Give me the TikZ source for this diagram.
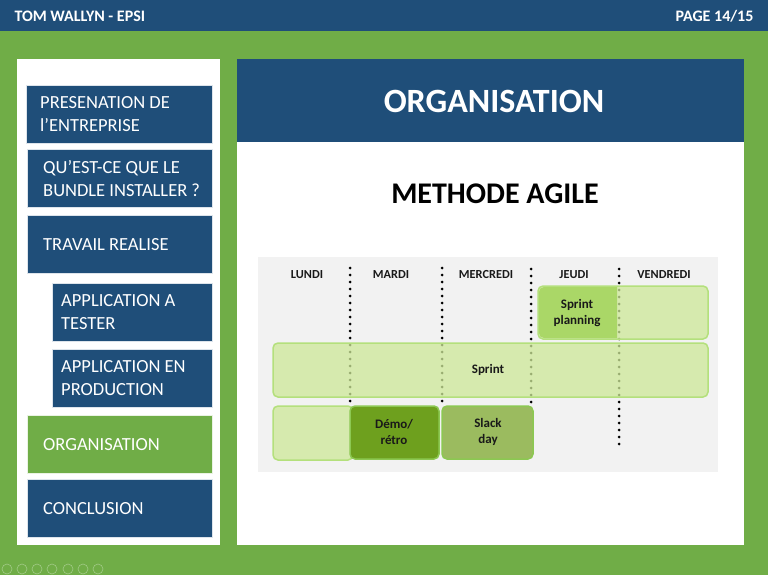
\documentclass[tikz,border=0pt]{standalone}
\usepackage{fontspec}
\setmainfont{Carlito}
\usetikzlibrary{positioning}

\definecolor{epsiblue}{RGB}{31,78,121}
\definecolor{epsigreen}{RGB}{112,173,71}
\definecolor{chartgray}{RGB}{242,242,242}
\definecolor{lightfill}{RGB}{205,232,152}
\definecolor{lightedge}{RGB}{180,224,124}
\definecolor{planfill}{RGB}{168,214,100}
\definecolor{demofill}{RGB}{110,160,30}
\definecolor{slackfill}{RGB}{155,187,95}
\definecolor{boxedge}{RGB}{140,200,82}
\definecolor{inktext}{RGB}{25,25,25}

\begin{document}
\begin{tikzpicture}[x=1pt,y=-1pt,
    navbox/.style={fill=#1, draw=white!85!#1, line width=0.6pt, anchor=north west,
        minimum height=58pt, inner sep=0pt},
    navbox/.default=epsiblue,
    navtext/.style={anchor=west, inner sep=0pt, text=white, align=left,
        font=\fontsize{18.5}{23}\selectfont},
    daylabel/.style={font=\bfseries\fontsize{12.3}{14}\selectfont, text=inktext},
    boxlabel/.style={font=\bfseries\fontsize{13}{16}\selectfont, text=inktext, align=center},
    dotline/.style={line width=3pt, line cap=round, dash pattern=on 0pt off 7pt},
    lightbox/.style={fill=lightfill, fill opacity=0.75, draw=lightedge, line width=1.5pt, rounded corners=5pt},
    daybox/.style={fill=#1, draw=boxedge, line width=1.5pt, rounded corners=5pt}
]
\useasboundingbox (0,0) rectangle (768,575);

% fond et bandeau
\fill[epsigreen] (0,0) rectangle (768,575);
\fill[epsiblue] (0,0) rectangle (768,31);
\node[anchor=west, text=white, font=\bfseries\fontsize{16}{18}\selectfont] (auteur) at (11,16) {TOM WALLYN - EPSI};
\node[anchor=east, text=white, font=\bfseries\fontsize{16}{18}\selectfont] (page) at (757,16) {PAGE 14/15};

% menu de gauche
\fill[white] (17,59) rectangle (220,545);
\node[navbox, minimum width=186pt] (presentation) at (26,85) {};
\node[navtext, right=14pt of presentation.west] (presentationtxt) {PRESENATION DE\\l’ENTREPRISE};
\node[navbox, minimum width=185pt] (bundle) at (27,149) {};
\node[navtext, right=16pt of bundle.west] (bundletxt) {QU’EST-CE QUE LE\\BUNDLE INSTALLER ?};
\node[navbox, minimum width=185pt] (travail) at (27,215) {};
\node[navtext, right=16pt of travail.west] (travailtxt) {TRAVAIL REALISE};
\node[navbox, minimum width=160pt] (tester) at (52,283) {};
\node[navtext, right=9pt of tester.west] (testertxt) {APPLICATION A\\TESTER};
\node[navbox, minimum width=160pt] (production) at (52,349) {};
\node[navtext, right=9pt of production.west] (productiontxt) {APPLICATION EN\\PRODUCTION};
\node[navbox=epsigreen, minimum width=185pt] (organisation) at (27,415) {};
\node[navtext, right=16pt of organisation.west] (organisationtxt) {ORGANISATION};
\node[navbox, minimum width=185pt] (conclusion) at (27,479) {};
\node[navtext, right=16pt of conclusion.west] (conclusiontxt) {CONCLUSION};

% panneau principal
\fill[white] (237,59) rectangle (744,545);
\fill[epsiblue] (237,59) rectangle (744,142);
\node[text=white, font=\bfseries\fontsize{34}{38}\selectfont] (titre) at (494,101) {ORGANISATION};
\node[text=black, font=\bfseries\fontsize{30}{34}\selectfont] (methode) at (495,194) {METHODE AGILE};

% planning de la semaine
\fill[chartgray] (258,257) rectangle (718,472);
\node[daylabel] (lundi) at (307,275) {LUNDI};
\node[daylabel] (mardi) at (391,275) {MARDI};
\node[daylabel] (mercredi) at (486,275) {MERCREDI};
\node[daylabel] (jeudi) at (574,275) {JEUDI};
\node[daylabel] (vendredi) at (664,275) {VENDREDI};

\draw[dotline] (350,268) -- (350,404);
\draw[dotline] (442,268) -- (442,404);
\draw[dotline] (531,269) -- (531,404);
\draw[dotline] (619,269) -- (619,447);

\draw[lightbox] (538,286) rectangle (708,339);
\fill[planfill, fill opacity=0.95, rounded corners=5pt] (617,287) -- (539,287) -- (539,338) [sharp corners] -- (617,338) -- cycle;
\node[boxlabel] (planning) at (577,313) {Sprint\\planning};

\draw[lightbox] (273,343) rectangle (708,397);
\node[boxlabel] (sprint) at (488,370) {Sprint};

\draw[lightbox] (273,406) rectangle (353,460);
\draw[daybox=demofill] (350,406) rectangle (439,459);
\node[boxlabel] (demo) at (394,432) {Démo/\\rétro};
\draw[daybox=slackfill] (442,406) rectangle (533,459);
\node[boxlabel] (slack) at (488,432) {Slack\\day};

% commandes du diaporama
\foreach \cx in {7,22,37,52,68,83,98}
    \draw[white, opacity=0.35, line width=0.6pt] (\cx,569) circle (5pt);
\end{tikzpicture}
\end{document}
